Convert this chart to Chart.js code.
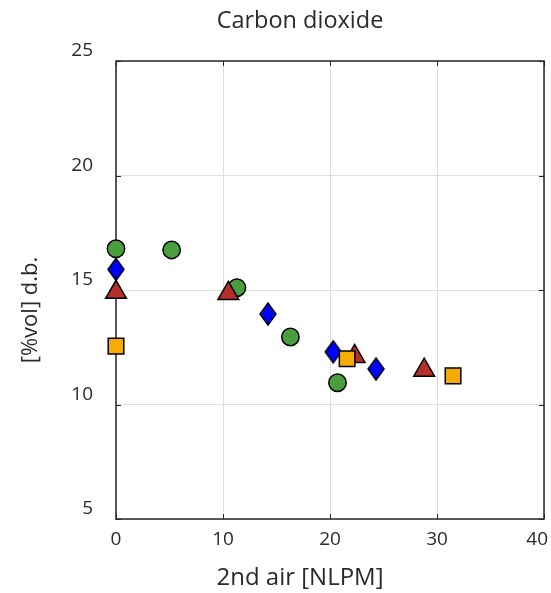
<!DOCTYPE html>
<html>
<head>
<meta charset="utf-8">
<script src="https://cdn.jsdelivr.net/npm/chart.js@4.4.1/dist/chart.umd.min.js"></script>
<style>
  html, body { margin: 0; padding: 0; background: #fff; }
  #wrap { width: 551px; height: 593px; }
</style>
</head>
<body>
<div id="wrap"><canvas id="chart-co2" width="551" height="593"></canvas></div>
<script>
// CO2 en fonction de l'air secondaire, quatre séries de mesures
const circleX = [0, 5.2, 11.3, 16.3, 20.7];
const circleY = [16.8, 16.75, 15.1, 12.95, 10.95];
const diamondX = [0, 14.2, 20.3, 24.3];
const diamondY = [15.9, 13.95, 12.3, 11.55];
const triangleX = [0, 10.5, 22.3, 28.8];
const triangleY = [14.9, 14.85, 12.1, 11.5];
const squareX = [0, 21.6, 31.5];
const squareY = [12.55, 12.0, 11.25];

const xTicks = [0, 10, 20, 30, 40];
const yTicks = [5, 10, 15, 20, 25];

const FONT = "'Open Sans', 'Noto Sans', sans-serif";
const INK = '#262626';
const TEXT = '#2a2a2a';

const pts = (xs, ys) => xs.map((x, i) => ({ x: x, y: ys[i] }));

// losange plus haut que large
function diamond(w, h, fill) {
  const c = document.createElement('canvas');
  c.width = w + 4;
  c.height = h + 4;
  const g = c.getContext('2d');
  g.beginPath();
  g.moveTo(c.width / 2, 2);
  g.lineTo(c.width - 2, c.height / 2);
  g.lineTo(c.width / 2, c.height - 2);
  g.lineTo(2, c.height / 2);
  g.closePath();
  g.fillStyle = fill;
  g.fill();
  g.lineWidth = 1.5;
  g.strokeStyle = '#000';
  g.stroke();
  return c;
}

// cadre, petites graduations intérieures, étiquettes de l'axe x et titres
const frame = {
  id: 'frame',
  beforeDatasetsDraw(chart) {
    const { ctx, chartArea: a, scales } = chart;
    ctx.save();
    ctx.strokeStyle = INK;
    ctx.lineWidth = 1.5;
    ctx.strokeRect(a.left, a.top, a.right - a.left, a.bottom - a.top);
    ctx.lineWidth = 1;
    ctx.beginPath();
    xTicks.forEach(v => {
      const px = Math.round(scales.x.getPixelForValue(v)) + 0.5;
      ctx.moveTo(px, a.bottom); ctx.lineTo(px, a.bottom - 5);
      ctx.moveTo(px, a.top); ctx.lineTo(px, a.top + 5);
    });
    yTicks.forEach(v => {
      const py = Math.round(scales.y.getPixelForValue(v)) + 0.5;
      ctx.moveTo(a.left, py); ctx.lineTo(a.left + 5, py);
      ctx.moveTo(a.right, py); ctx.lineTo(a.right - 5, py);
    });
    ctx.stroke();

    ctx.fillStyle = TEXT;
    ctx.textAlign = 'center';
    ctx.textBaseline = 'middle';

    // le dernier libellé reste dans le canevas
    ctx.font = '19px ' + FONT;
    xTicks.forEach(v => {
      const label = String(v);
      const half = ctx.measureText(label).width / 2;
      const px = Math.min(scales.x.getPixelForValue(v), chart.width - 3 - half);
      ctx.fillText(label, px, a.bottom + 21);
    });

    ctx.font = '23.5px ' + FONT;
    ctx.fillText('Carbon dioxide', 300, 21);
    ctx.font = '24px ' + FONT;
    ctx.fillText('2nd air [NLPM]', 300, 578);
    ctx.font = '22px ' + FONT;
    ctx.translate(31, 310);
    ctx.rotate(-Math.PI / 2);
    ctx.fillText('[%vol] d.b.', 0, 0);
    ctx.restore();
  }
};

const tickFont = { family: FONT, size: 19 };

new Chart(document.getElementById('chart-co2'), {
  type: 'scatter',
  data: {
    datasets: [
      {
        data: pts(circleX, circleY),
        pointStyle: 'circle',
        pointRadius: 8.7,
        backgroundColor: '#47a03d',
        order: 4
      },
      {
        data: pts(diamondX, diamondY),
        pointStyle: diamond(16, 22, '#0000ff'),
        pointRadius: 11,
        backgroundColor: '#0000ff',
        order: 3
      },
      {
        data: pts(triangleX, triangleY),
        pointStyle: 'triangle',
        pointRadius: 12,
        backgroundColor: '#b5302c',
        order: 2
      },
      {
        data: pts(squareX, squareY),
        pointStyle: 'rect',
        pointRadius: 11,
        backgroundColor: '#f5ab00',
        order: 1
      }
    ]
  },
  options: {
    responsive: false,
    animation: false,
    devicePixelRatio: 1,
    layout: { autoPadding: false, padding: { top: 61, right: 7, bottom: 0, left: 0 } },
    elements: {
      point: { borderColor: '#000', borderWidth: 1.5, hoverRadius: 0 }
    },
    datasets: {
      scatter: { clip: false }
    },
    plugins: {
      legend: { display: false },
      title: { display: false },
      tooltip: { enabled: false }
    },
    scales: {
      x: {
        type: 'linear',
        min: 0,
        max: 40,
        afterFit: s => { s.height = 74; s.paddingLeft = 0; s.paddingRight = 0; },
        afterBuildTicks: s => { s.ticks = xTicks.map(v => ({ value: v })); },
        grid: { color: '#dedede', drawTicks: false },
        border: { display: false },
        ticks: { display: false }
      },
      y: {
        type: 'linear',
        min: 5,
        max: 25,
        afterFit: s => { s.width = 116; s.paddingTop = 0; s.paddingBottom = 0; },
        afterBuildTicks: s => { s.ticks = yTicks.map(v => ({ value: v })); },
        grid: { color: '#dedede', drawTicks: false },
        border: { display: false },
        ticks: { padding: 23, labelOffset: -10, color: TEXT, font: tickFont }
      }
    }
  },
  plugins: [frame]
});
</script>
</body>
</html>
